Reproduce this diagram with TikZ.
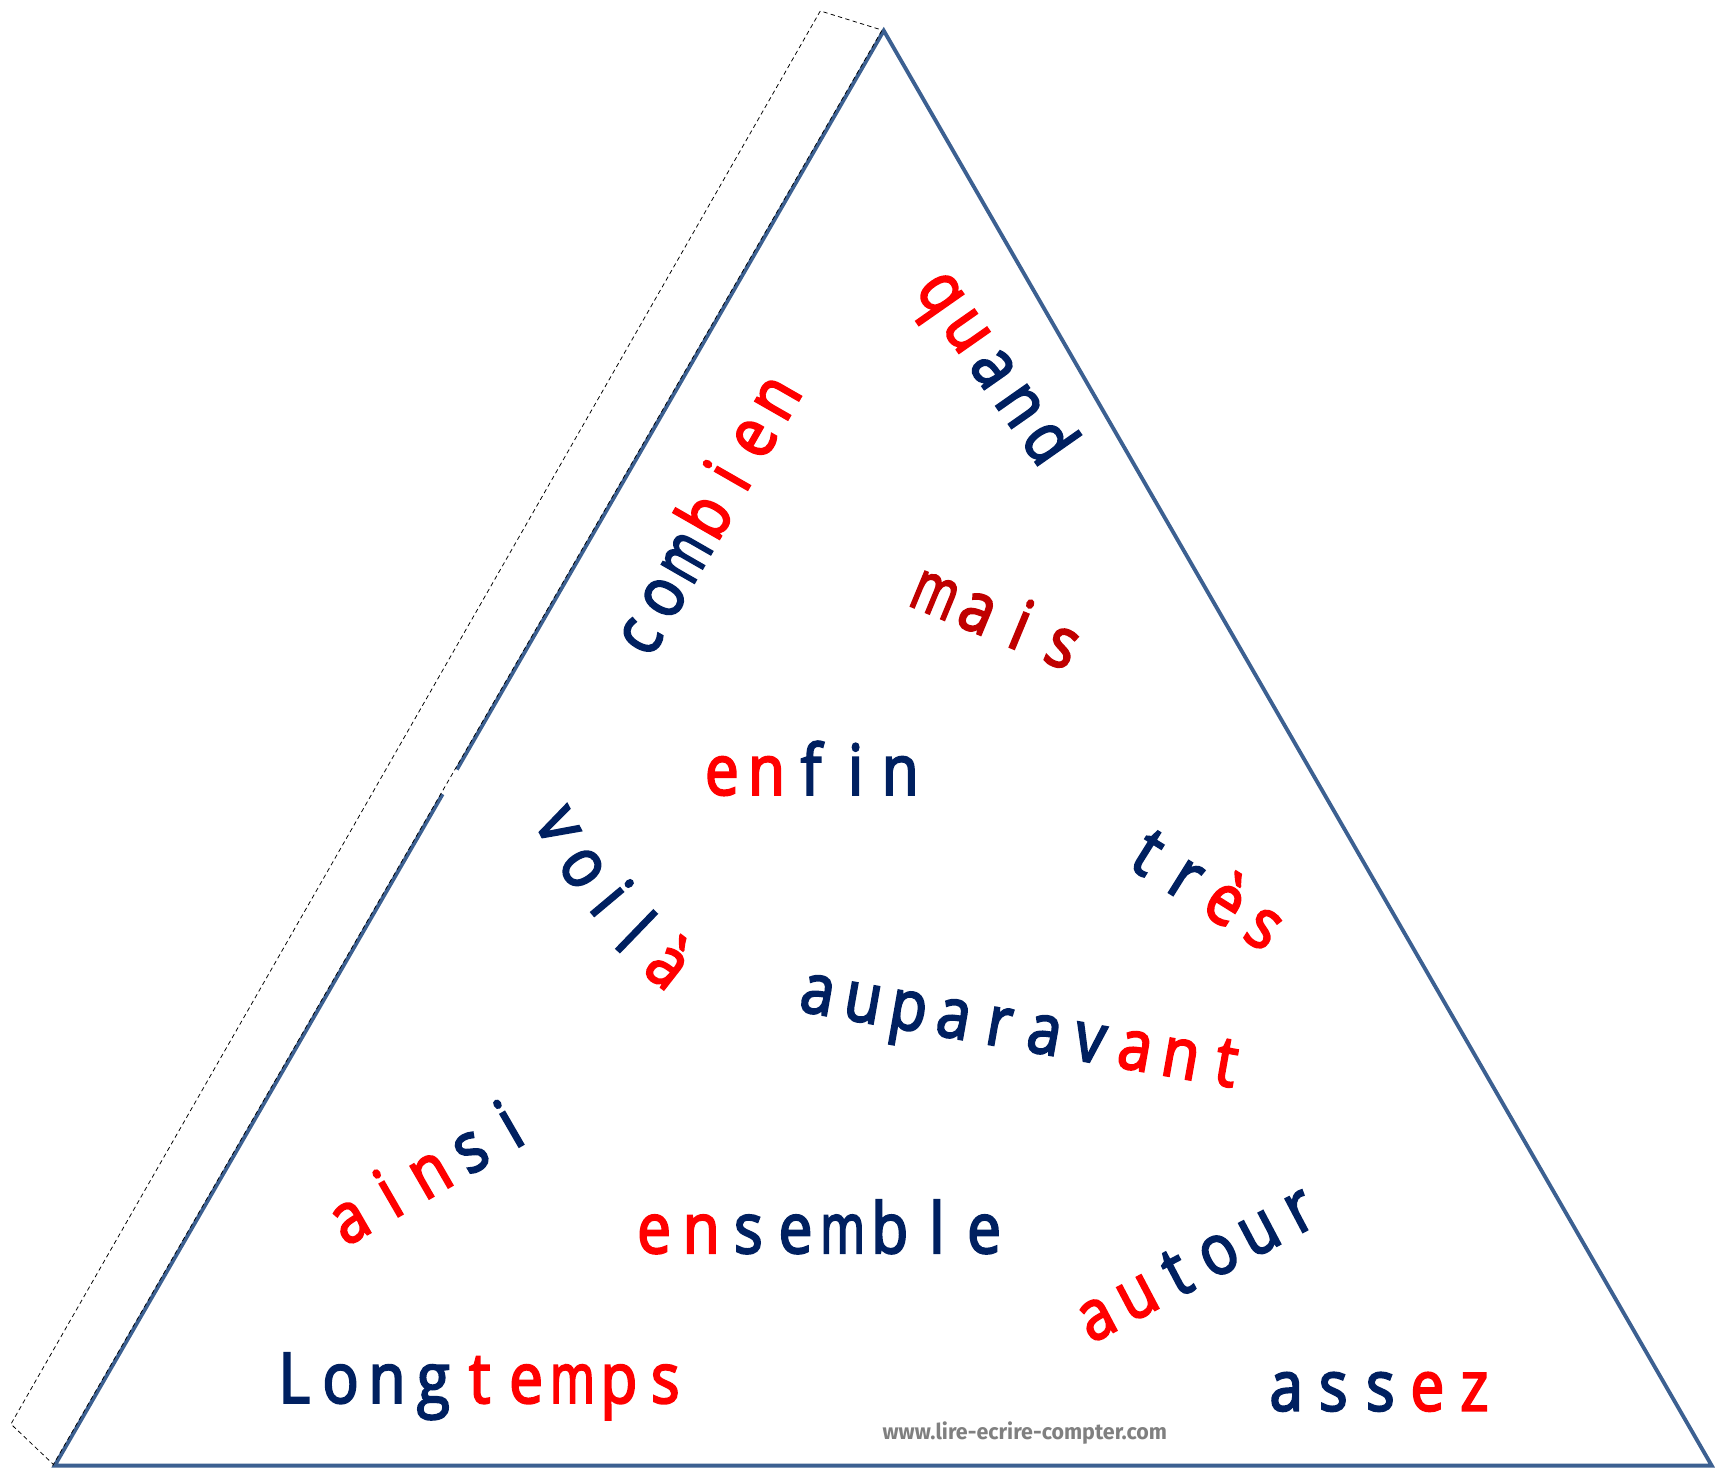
\documentclass[tikz,border=0pt]{standalone}
\usepackage{fontspec}
\setmainfont{Open Sans}
\newfontfamily\letterfont{Open Sans}[FakeStretch=0.86, FakeBold=3]
\newfontfamily\wmfont{Fira Sans}
\usetikzlibrary{calc}
\definecolor{cN}{RGB}{0,32,96}
\definecolor{cR}{RGB}{255,0,0}
\definecolor{cD}{RGB}{192,0,0}
\definecolor{triblue}{RGB}{60,96,145}
\newcommand{\nm}{\scalebox{0.8}[1]{m}}
\newcommand{\lword}[6]{%
  \foreach \cc/\ch [count=\i from 0] in {#6}{%
    \node[letter, text=\cc, rotate=#4] (#1\i) at ({#2+\i*#5*cos(#4)}, {-(#3)-12+\i*#5*sin(#4)}) {\ch};
  }%
}
\begin{document}
\begin{tikzpicture}[x=1pt,y=1pt,
  letter/.style={inner sep=0pt, anchor=mid, font=\letterfont\fontsize{64}{70}\selectfont},
  tri/.style={draw=triblue, line width=3.5pt},
  flap/.style={draw=black, line width=0.7pt, dash pattern=on 4pt off 3pt}]
\useasboundingbox (0,0) rectangle (1568,-1343);
\coordinate (A) at (808,-28);
\coordinate (B) at (50,-1340);
\coordinate (C) at (1565,-1340);
\coordinate (F1) at (750,-10);
\coordinate (F2) at (10,-1302);
% flap
\draw[flap] (B) -- (F2) -- (F1) -- (A);
% triangle
\draw[tri] (A) -- (B) -- (C) -- cycle;
\draw[white, line width=5pt] ($(A)!0.515!(B)$) -- ($(A)!0.532!(B)$);
\draw[flap] ([xshift=-1.8pt]A) -- ([xshift=-1.8pt]B);
% words
\lword{quand}{848}{265}{-55}{41.8}{cR/q,cR/u,cN/a,cN/n,cN/d}
\lword{combien}{599}{578}{60.2}{41.9}{cN/c,cN/o,cN/\nm,cR/b,cR/i,cR/e,cR/n}
\lword{mais}{849}{546}{-22.5}{41.8}{cD/\nm,cD/a,cD/i,cD/s}
\lword{enfin}{660}{712}{0}{40.75}{cR/e,cR/n,cN/f,cN/i,cN/n}
\lword{tres}{1040}{783}{-32}{42}{cN/t,cN/r,cR/è,cR/s}
\lword{auparavant}{745}{912}{-10}{42.1}{cN/a,cN/u,cN/p,cN/a,cN/r,cN/a,cN/v,cR/a,cR/n,cR/t}
\lword{ainsi}{328}{1118}{30}{42.5}{cR/a,cR/i,cR/n,cN/s,cN/i}
\lword{ensemble}{598}{1131}{0}{43.1}{cR/e,cR/n,cN/s,cN/e,cN/\nm,cN/b,cN/l,cN/e}
\lword{autour}{1010}{1207}{27.8}{42}{cR/a,cR/u,cN/t,cN/o,cN/u,cN/r}
\lword{assez}{1176}{1275}{0}{43}{cN/a,cN/s,cN/s,cR/e,cR/z}
\lword{Longtemps}{269}{1268}{0}{42.4}{cN/L,cN/o,cN/n,cN/g,cR/t,cR/e,cR/\nm,cR/p,cR/s}
% voila (curved)
\node[letter, text=cN, rotate=-62] (voila0) at (497,-762) {v};
\node[letter, text=cN, rotate=-56] (voila1) at (520,-802) {o};
\node[letter, text=cN, rotate=-50] (voila2) at (544,-834) {i};
\node[letter, text=cN, rotate=-44] (voila3) at (567,-867) {l};
\node[letter, text=cR, rotate=-38] (voila4) at (600,-896) {à};
% watermark
\node[font=\wmfont\bfseries\fontsize{20}{22}\selectfont, text=black!50, xscale=0.98, inner sep=0pt] (wm) at (937,-1310) {www.lire-ecrire-compter.com};
\end{tikzpicture}
\end{document}
